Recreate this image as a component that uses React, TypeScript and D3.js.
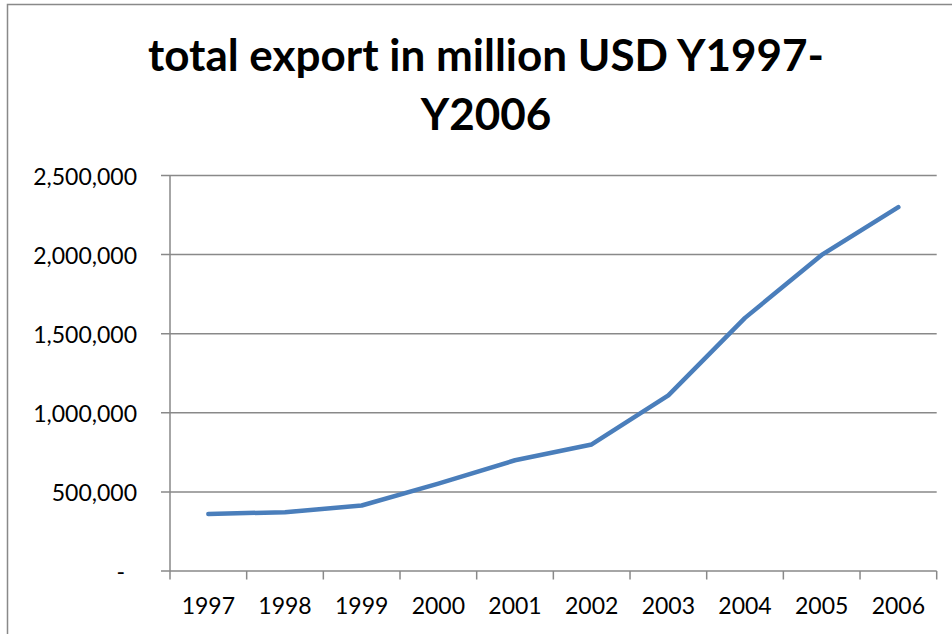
import React from "react";
import * as d3 from "d3";

const years = ["1997", "1998", "1999", "2000", "2001", "2002", "2003", "2004", "2005", "2006"];
const totalExport = [360000, 372000, 414000, 552000, 700000, 800000, 1110000, 1600000, 1998000, 2300000];
const yTicks = [0, 500000, 1000000, 1500000, 2000000, 2500000];
const titleLines = ["total export in million USD Y1997-", "Y2006"];

const W = 952;
const H = 634;
const plotLeft = 170;
const plotRight = 936.7;
const plotTop = 175.5;
const plotBottom = 571;
const gridColor = "#898989";
const lineColor = "#4A7EBB";
const font = "Lato, 'Open Sans', sans-serif";

export default function App() {
  const x = d3.scaleBand<string>().domain(years).range([plotLeft, plotRight]).padding(0);
  const y = d3.scaleLinear().domain([0, 2500000]).range([plotBottom, plotTop]);
  const fmt = d3.format(",");
  const line = d3
    .line<number>()
    .x((_, i) => (x(years[i]) as number) + x.bandwidth() / 2)
    .y((d) => y(d));
  const tickXs = years.map((yr) => x(yr) as number).concat([plotRight]);

  return (
    <svg
      width={W}
      height={H}
      style={{ position: "absolute", left: 0, top: 0, background: "#fff" }}
      fontFamily={font}
    >
      <rect x={0} y={0} width={W} height={H} fill="#fff" />
      {/* chart border */}
      <path d={`M7.5,${H + 2} V4.5 H${W + 2}`} fill="none" stroke={gridColor} strokeWidth={1.5} />

      {/* title */}
      {titleLines.map((t, i) => (
        <text
          key={i}
          x={486}
          y={71 + i * 59}
          textAnchor="middle"
          fontSize={44}
          fontWeight="bold"
          fill="#000"
        >
          {t}
        </text>
      ))}

      {/* gridlines + y tick labels */}
      {yTicks.map((v) => (
        <g key={v}>
          <line x1={161} x2={v === 0 ? plotLeft : plotRight} y1={y(v)} y2={y(v)} stroke={gridColor} strokeWidth={1.5} />
          <text
            x={v === 0 ? 125 : 137}
            y={y(v)}
            textAnchor="end"
            dominantBaseline="central"
            fontSize={23}
            fill="#000"
          >
            {v === 0 ? "-" : fmt(v)}
          </text>
        </g>
      ))}

      {/* y axis */}
      <line x1={plotLeft} x2={plotLeft} y1={plotTop} y2={plotBottom} stroke={gridColor} strokeWidth={1.5} />
      {/* x axis */}
      <line x1={plotLeft} x2={plotRight} y1={plotBottom} y2={plotBottom} stroke={gridColor} strokeWidth={1.5} />
      {tickXs.map((tx, i) => (
        <line key={i} x1={tx} x2={tx} y1={plotBottom} y2={plotBottom + 8.5} stroke={gridColor} strokeWidth={1.5} />
      ))}
      {years.map((yr) => (
        <text
          key={yr}
          x={(x(yr) as number) + x.bandwidth() / 2}
          y={605}
          textAnchor="middle"
          dominantBaseline="central"
          fontSize={23}
          fill="#000"
        >
          {yr}
        </text>
      ))}

      {/* series */}
      <path
        d={line(totalExport) || ""}
        fill="none"
        stroke={lineColor}
        strokeWidth={4.5}
        strokeLinecap="round"
        strokeLinejoin="round"
      />
    </svg>
  );
}
